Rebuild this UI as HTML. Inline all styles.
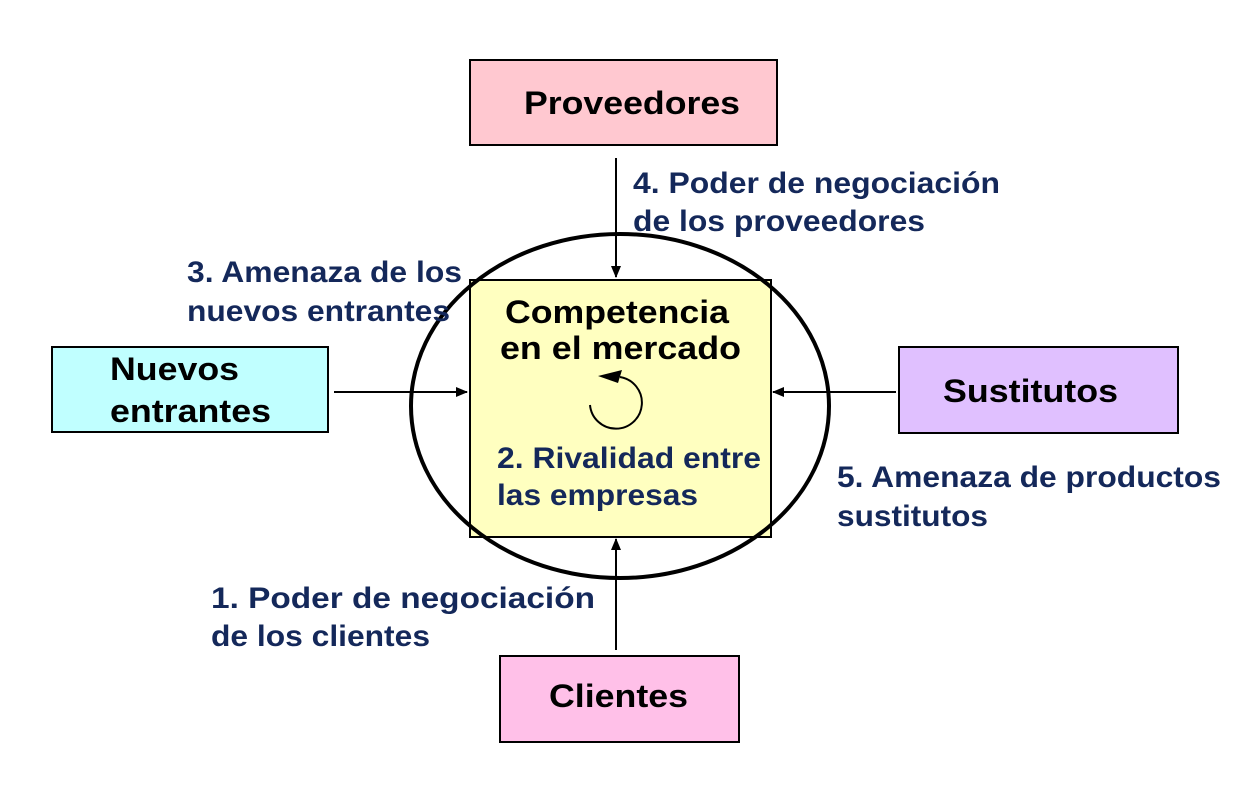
<!DOCTYPE html>
<html><head><meta charset="utf-8"><style>body{margin:0;background:#fff}svg{display:block}</style></head>
<body>
<svg width="1260" height="792" viewBox="0 0 1260 792" xmlns="http://www.w3.org/2000/svg" font-family="Liberation Sans, Arial, sans-serif" font-weight="bold">
<defs><marker id="a" markerWidth="12" markerHeight="10" refX="11" refY="5" orient="auto" markerUnits="userSpaceOnUse"><path d="M0,0 L12,5 L0,10 Z" fill="#000"/></marker></defs>
<rect x="470" y="280" width="301" height="257" fill="#ffffc0" stroke="#000" stroke-width="2"/>
<ellipse cx="620" cy="406" rx="209" ry="172" fill="none" stroke="#000" stroke-width="4"/>
<rect x="470" y="60" width="307" height="85" fill="#ffc8d0" stroke="#000" stroke-width="2"/>
<rect x="52" y="347" width="276" height="85" fill="#c0ffff" stroke="#000" stroke-width="2"/>
<rect x="899" y="347" width="279" height="86" fill="#e0c0ff" stroke="#000" stroke-width="2"/>
<rect x="500" y="656" width="239" height="86" fill="#ffc0e8" stroke="#000" stroke-width="2"/>
<g stroke="#000" stroke-width="2">
<line x1="616" y1="158" x2="616" y2="277" marker-end="url(#a)"/>
<line x1="334" y1="392" x2="467" y2="392" marker-end="url(#a)"/>
<line x1="896" y1="392" x2="773" y2="392" marker-end="url(#a)"/>
<line x1="616" y1="650" x2="616" y2="539" marker-end="url(#a)"/>
</g>
<path d="M590,405 A26,26 0 1 0 620,377" fill="none" stroke="#000" stroke-width="2"/>
<path d="M598,376 L622,370 L618,383 Z" fill="#000"/>
<g font-size="32" fill="#000">
<text x="524" y="114" textLength="216" lengthAdjust="spacingAndGlyphs">Proveedores</text>
<text x="110" y="380" textLength="129" lengthAdjust="spacingAndGlyphs">Nuevos</text>
<text x="110" y="422" textLength="161" lengthAdjust="spacingAndGlyphs">entrantes</text>
<text x="943" y="402" textLength="175" lengthAdjust="spacingAndGlyphs">Sustitutos</text>
<text x="549" y="707" textLength="139" lengthAdjust="spacingAndGlyphs">Clientes</text>
<text x="505" y="323" textLength="224" lengthAdjust="spacingAndGlyphs">Competencia</text>
<text x="500" y="359" textLength="241" lengthAdjust="spacingAndGlyphs">en el mercado</text>
</g>
<g font-size="29.5" fill="#14285a">
<text x="633" y="193" textLength="367" lengthAdjust="spacingAndGlyphs">4. Poder de negociación</text>
<text x="633" y="231" textLength="292" lengthAdjust="spacingAndGlyphs">de los proveedores</text>
<text x="187" y="282" textLength="275" lengthAdjust="spacingAndGlyphs">3. Amenaza de los</text>
<text x="187" y="321" textLength="263" lengthAdjust="spacingAndGlyphs">nuevos entrantes</text>
<text x="497" y="468" textLength="264" lengthAdjust="spacingAndGlyphs">2. Rivalidad entre</text>
<text x="497" y="505" textLength="201" lengthAdjust="spacingAndGlyphs">las empresas</text>
<text x="837" y="487" textLength="384" lengthAdjust="spacingAndGlyphs">5. Amenaza de productos</text>
<text x="837" y="526" textLength="151" lengthAdjust="spacingAndGlyphs">sustitutos</text>
<text x="211" y="608" textLength="384" lengthAdjust="spacingAndGlyphs">1.   Poder de negociación</text>
<text x="211" y="646" textLength="219" lengthAdjust="spacingAndGlyphs">de los clientes</text>
</g>
</svg>
</body></html>
